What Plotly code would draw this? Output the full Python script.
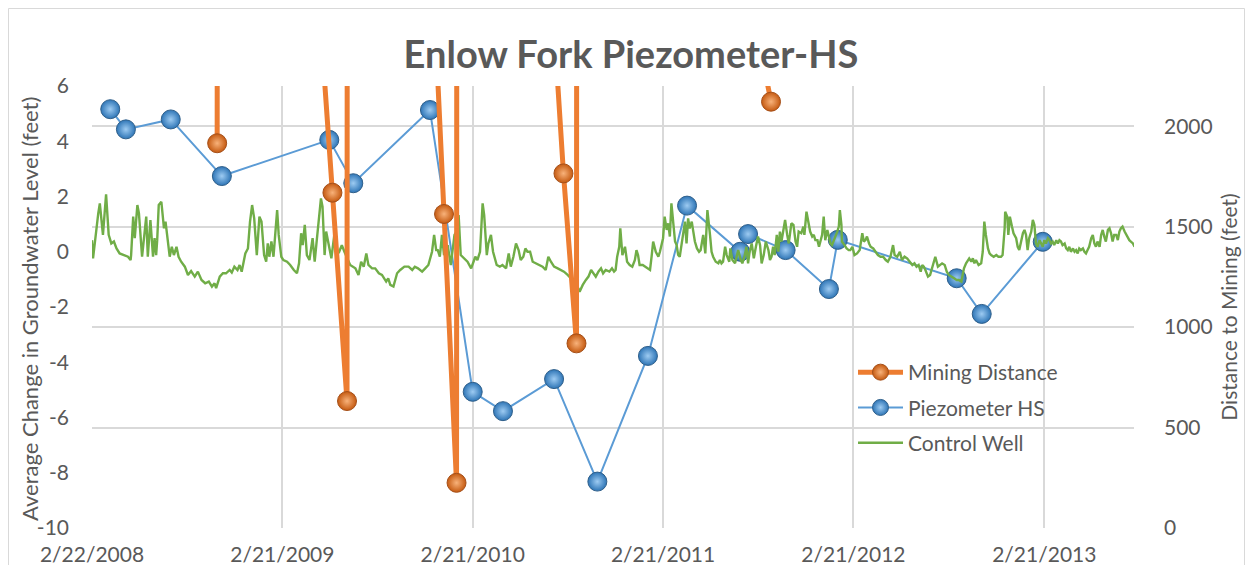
import pandas as pd
import plotly.graph_objects as go

# ---------------- data ----------------
start_date = pd.Timestamp("2008-02-22")

piezo_dates = ["2008-03-28", "2008-04-27", "2008-07-22", "2008-10-28", "2009-05-22",
               "2009-07-07", "2009-12-01", "2010-02-21", "2010-04-20", "2010-07-27",
               "2010-10-18", "2011-01-23", "2011-04-08", "2011-07-19", "2011-08-03",
               "2011-10-14", "2012-01-05", "2012-01-22", "2012-09-06", "2012-10-24",
               "2013-02-18"]
piezo_values = [5.16, 4.43, 4.79, 2.74, 4.05, 2.48, 5.13, -5.07, -5.77, -4.61,
                -8.32, -3.77, 1.67, 0.0, 0.64, 0.06, -1.35, 0.43, -0.96, -2.25, 0.36]

mining_dates = ["2008-10-19", "2008-10-20", "2009-04-28", "2009-05-28", "2009-06-25",
                "2009-06-26", "2009-11-28", "2009-12-28", "2010-01-21", "2010-01-22",
                "2010-07-15", "2010-08-14", "2010-09-08", "2010-09-09", "2011-08-17",
                "2011-09-16"]
mining_values = [1915, 6000, 2779, 1669, 632, 6000, 3236, 1563, 225, 6000,
                 2983, 1765, 919, 6000, 2512, 2122]

# Control well: days after 2008-02-22 and average change (feet)
control_days = [0, 2, 12, 15, 21, 27, 32, 37, 42, 47, 53, 63, 69, 74, 75, 79, 82, 87, 90, 96,
                100, 104, 107, 112, 117, 120, 123, 125, 128, 133, 138, 141, 149, 153, 157, 162,
                166, 171, 178, 184, 190, 197, 203, 210, 217, 224, 230, 235, 238, 245, 251, 257,
                264, 268, 273, 279, 283, 287, 294, 299, 303, 307, 311, 316, 321, 325, 330, 334,
                337, 340, 344, 348, 355, 358, 363, 367, 374, 380, 387, 393, 397, 401, 404, 408,
                412, 417, 423, 427, 431, 435, 439, 442, 446, 449, 454, 459, 465, 470, 474, 479,
                484, 489, 495, 505, 511, 516, 521, 526, 530, 537, 543, 550, 556, 564, 568, 572,
                578, 585, 591, 599, 607, 614, 619, 625, 633, 639, 645, 652, 656, 660, 663, 667,
                671, 675, 682, 688, 695, 699, 703, 707, 714, 720, 727, 731, 735, 739, 744, 749,
                752, 757, 760, 765, 769, 776, 782, 787, 794, 799, 803, 808, 813, 818, 822, 827,
                831, 835, 840, 845, 851, 858, 864, 870, 875, 880, 886, 893, 899, 905, 912, 918,
                925, 931, 935, 941, 947, 952, 957, 961, 966, 971, 976, 980, 985, 992, 997, 1001,
                1004, 1007, 1011, 1013, 1017, 1022, 1026, 1031, 1036, 1041, 1044, 1047, 1050,
                1056, 1060, 1065, 1070, 1073, 1076, 1081, 1086, 1089, 1092, 1095, 1098, 1102,
                1105, 1108, 1111, 1114, 1118, 1121, 1124, 1127, 1130, 1134, 1137, 1140, 1143,
                1146, 1150, 1153, 1156, 1160, 1164, 1167, 1172, 1176, 1180, 1185, 1188, 1191,
                1196, 1201, 1204, 1207, 1210, 1214, 1217, 1222, 1224, 1228, 1233, 1236, 1239,
                1244, 1247, 1251, 1255, 1258, 1261, 1265, 1269, 1273, 1277, 1281, 1284, 1288,
                1292, 1297, 1300, 1303, 1306, 1309, 1313, 1316, 1319, 1322, 1325, 1329, 1333,
                1336, 1341, 1345, 1349, 1352, 1355, 1360, 1364, 1366, 1370, 1373, 1377, 1381,
                1384, 1387, 1391, 1394, 1397, 1400, 1403, 1406, 1410, 1413, 1416, 1419, 1422,
                1426, 1429, 1432, 1434, 1437, 1438, 1443, 1447, 1451, 1454, 1458, 1462, 1467,
                1472, 1477, 1480, 1483, 1486, 1490, 1493, 1498, 1502, 1507, 1512, 1517, 1522,
                1526, 1531, 1536, 1539, 1544, 1549, 1553, 1558, 1563, 1568, 1573, 1577, 1581,
                1585, 1589, 1592, 1595, 1598, 1603, 1607, 1611, 1614, 1617, 1622, 1626, 1630,
                1635, 1639, 1643, 1647, 1653, 1658, 1662, 1667,
                1672, 1676, 1679, 1682, 1686, 1689, 1692, 1695, 1700, 1705, 1708, 1711, 1714,
                1718, 1721, 1724, 1729, 1734, 1738, 1743, 1746, 1750, 1751, 1755, 1757, 1760,
                1764, 1767, 1772, 1775, 1778, 1781, 1785, 1788, 1791, 1794, 1797, 1801, 1804,
                1807, 1810, 1813, 1817, 1820, 1823, 1826, 1829, 1833, 1836, 1839, 1842, 1845,
                1849, 1852, 1855, 1858, 1861, 1865, 1868, 1871, 1874, 1877, 1881, 1884, 1887,
                1890, 1893, 1896, 1900, 1903, 1906, 1909, 1912, 1916, 1919, 1922, 1925, 1928,
                1932, 1935, 1938, 1941, 1944, 1948, 1951, 1954, 1957, 1960, 1964, 1967, 1970,
                1973, 1976, 1980, 1983, 1986, 1989, 1992, 1996, 1999]
control_values = [0.42, -0.24, 1.39, 1.75, 0.61, 2.08, 0.61, 0.30, 0.37, 0.12, -0.06, -0.12, -0.18,
                  -0.30, -0.12, 1.27, 0.49, 1.69, 1.39, -0.18, 0.61, 1.27, -0.18, 1.15, -0.18, 0.49,
                  -0.12, 0.42, 1.69, 1.81, 0.85, 1.09, -0.18, 0.18, -0.12, 0.18, -0.18, -0.36, -0.54,
                  -0.84, -0.70, -0.90, -0.72, -1.02, -1.14, -1.08, -1.26, -1.14, -1.32, -0.90, -0.78,
                  -0.78, -0.66, -0.75, -0.54, -0.66, -0.48, -0.72, -0.06, 0.12, 1.09, 1.69, 1.21,
                  -0.12, 1.27, 1.09, -0.12, -0.36,
                  0.30, -0.18, 0.37, -0.18, 1.51, 0.61, -0.18, -0.30, -0.36, -0.48, -0.66, -0.78,
                  -0.42, 0.67, 0.24, 0.97, -0.12, -0.30, 0.49, -0.36, 0.42, 1.33, 1.93, 1.63, -0.12,
                  0.73, 0.30, -0.24, 0.67, 0.06, 0.0, 0.24, 0.0, -0.24, -0.48, -0.60, -0.84, -0.36,
                  -0.54, -0.06, -0.48, -0.60, -0.60, -0.78, -0.84, -1.08, -0.96, -1.20, -1.26, -0.78,
                  -0.66, -0.54, -0.54, -0.66, -0.54, -0.60, -0.72, -0.60, -0.48, 0.0, 0.61, 0.06,
                  0.06, -0.18,
                  0.61, -0.12, 0.24, -0.48, 0.61, 0.73, 1.33, -0.12, -0.24, -0.36, -0.60, -0.36,
                  -0.18, -0.30, 0.0, 1.75, 1.33, -0.12, 0.30, 0.61, 0.0, -0.48, -0.54, -0.48, -0.60,
                  -0.06, -0.54, -0.18, 0.30, 0.06, -0.30, -0.18, 0.12, 0.0, 0.0, -0.36, -0.42, -0.48,
                  -0.54, -0.66, -0.18, -0.36, -0.54, -0.60, -0.66, -0.72, -0.84, -0.96, -1.20, -1.26,
                  -1.45, -1.20, -1.02, -0.90, -0.66, -0.78, -0.90, -0.72, -0.60, -0.78, -0.66, -0.72,
                  -0.60, -0.72,
                  -0.66, -0.18, 0.18, 0.85, -0.12, 0.18, -0.36, -0.48, -0.54, -0.30, 0.06, -0.12,
                  -0.48, -0.48, -0.54, -0.60, -0.66, -0.18, 0.37, 0.0, -0.18, 0.0, 0.30, 0.49, 1.27,
                  0.79, 1.03, 0.55, 1.75, 1.21, 0.37, 0.24, -0.12, -0.18, 0.24, 0.73, 1.09, 0.30,
                  1.21, 0.85, 1.09, 0.73, 0.37, 0.12, 0.0, 0.06, 0.61, -0.06, 1.51, 0.61, 0.0, -0.18,
                  -0.36, -0.42, -0.30, -0.42, -0.36, 0.18, -0.12, -0.36, 0.12, -0.30, -0.42, -0.18,
                  0.06, -0.30, -0.42, -0.18, 0.18, -0.42, 0.0, 0.30, -0.24, 0.18, 0.55, 0.24, -0.42,
                  -0.12, 0.37, 0.06, -0.30, -0.18, 0.18, -0.12, 0.61, 0.0, 0.73, 0.37, 0.73, 1.15,
                  0.61,
                  0.30, 1.03, 0.97, 0.37, 0.18, 0.73, 0.67, 0.91, 0.61, 1.45, 1.09, 0.73, 0.55, 0.61,
                  0.42, 0.42, 0.18, 0.42, 0.61, 1.27, 0.42, 0.79, 0.55, 0.30, 0.24, 0.37, 0.55, 0.73,
                  0.91, 1.51, 0.97, 0.37, 0.24, 0.12, 0.06, 0.06, 0.18, -0.12, -0.06, 0.06, 0.67,
                  0.37, 0.42, 0.55, 0.30, 0.18, 0.12, 0.0, -0.12, -0.18, -0.18, -0.30, -0.36, -0.18,
                  0.24, -0.12, -0.18, 0.0, -0.30, -0.18, -0.24, -0.36, -0.48, -0.42, -0.54, -0.48,
                  -0.72, -0.48, -0.54, -0.66, -0.90, -0.84, -0.54, -0.36, -0.18, -0.54, -0.48, -0.42,
                  -0.48, -0.72, -0.84, -0.90, -0.96, -1.02, -1.02, -1.08,
                  -0.60, -0.42, -0.30, -0.24, -0.36, -0.24, -0.42, -0.30, -0.48, -0.42, 0.0, 1.09,
                  0.61, 0.12, -0.06, -0.12, -0.18, -0.12, -0.18, -0.18, -0.12, 0.85, 1.45, 1.27,
                  0.61, 1.27, 0.91, 0.67, 0.49, 0.18, 0.06, 0.37, 0.67, 0.79, 0.61, 0.06, 0.49, 0.73,
                  1.15, 0.97, 0.30, 0.18, 0.42, 0.30, 0.18, 0.42, 0.30, 0.49, 0.42, 0.30, 0.37, 0.24,
                  0.42, 0.30, 0.42, 0.37, 0.24, 0.30, 0.12, 0.06, 0.18, 0.0, 0.12, 0.0, 0.06, -0.06,
                  0.12, 0.06, 0.12, 0.0, -0.06, 0.06, 0.18, 0.49, 0.61, 0.30, 0.18, 0.37, 0.18, 0.61,
                  0.79, 0.55, 0.37, 0.79, 0.85, 0.67, 0.37, 0.61, 0.61, 0.42, 0.73, 0.85, 0.91, 0.73,
                  0.61, 0.49, 0.42, 0.37, 0.30, 0.18]

tick_dates = ["2008-02-22", "2009-02-21", "2010-02-21", "2011-02-21", "2012-02-21", "2013-02-21"]
tick_labels = ["2/22/2008", "2/21/2009", "2/21/2010", "2/21/2011", "2/21/2012", "2/21/2013"]
x_end = "2013-08-12"

level_ticks = [-10, -8, -6, -4, -2, 0, 2, 4, 6]
level_labels = ["-10", "-8", "-6", "-4", "-2", "0", "2", "4", "6"]
distance_ticks = [0, 500, 1000, 1500, 2000]

control_dates = [start_date + pd.Timedelta(days=d) for d in control_days]

# ---------------- figure ----------------
FONT = "Lato"
GREY = "#595959"
GRID = "#d9d9d9"

fig = go.Figure()

fig.add_trace(go.Scatter(
    x=mining_dates, y=mining_values, name="Mining Distance", yaxis="y2",
    mode="lines+markers",
    line=dict(color="#ED7D31", width=5),
    marker=dict(size=19, color="#C55A11",
                gradient=dict(type="radial", color="#F8B27A"),
                line=dict(color="#A5501A", width=1)),
    legendgroup="a",
))
fig.add_trace(go.Scatter(
    x=piezo_dates, y=piezo_values, name="Piezometer HS",
    mode="lines+markers",
    line=dict(color="#5B9BD5", width=2),
    marker=dict(size=19, color="#2E75B6",
                gradient=dict(type="radial", color="#9DCBF2"),
                line=dict(color="#2F5F8A", width=1)),
    legendgroup="b",
))
fig.add_trace(go.Scatter(
    x=control_dates, y=control_values, name="Control Well",
    mode="lines",
    line=dict(color="#70AD47", width=2.4),
    legendgroup="c",
))

# the page adds an 8px body margin, so the figure itself is 1237 x 557
W, H = 1237, 557
L, R, T, B = 84, 111, 78, 37
pw, ph = W - L - R, H - T - B


def px_x(px):
    return (px - L) / pw


def px_y(py):
    return (H - B - py) / ph


fig.update_layout(
    width=W, height=H,
    margin=dict(l=L, r=R, t=T, b=B, autoexpand=False),
    paper_bgcolor="white", plot_bgcolor="white",
    font=dict(family=FONT, color=GREY, size=21),
    title=dict(text="<b>Enlow Fork Piezometer-HS</b>", x=623 / W, xanchor="center",
               y=1 - 47 / H, yanchor="middle",
               font=dict(family=FONT, size=38, color=GREY)),
    xaxis=dict(type="date", range=[start_date.strftime("%Y-%m-%d"), x_end],
               tickvals=tick_dates, ticktext=tick_labels,
               showgrid=True, gridcolor=GRID, gridwidth=2,
               showline=False, zeroline=False, ticks="",
               ticklabelstandoff=12,
               tickfont=dict(size=21, color=GREY)),
    yaxis=dict(range=[-10, 6], tickvals=level_ticks, ticktext=level_labels,
               showgrid=False, zeroline=False, showline=False, ticks="",
               ticklabelstandoff=22,
               tickfont=dict(size=21, color=GREY)),
    yaxis2=dict(range=[0, 2200], tickvals=distance_ticks,
                overlaying="y", side="right",
                showgrid=True, gridcolor=GRID, gridwidth=2,
                zeroline=False, showline=False, ticks="",
                ticklabelstandoff=29,
                tickfont=dict(size=21, color=GREY),
                title=dict(text="Distance to Mining (feet)",
                           font=dict(size=21, color=GREY), standoff=10)),
    legend=dict(x=px_x(845), y=px_y(344), xanchor="left", yanchor="top",
                bgcolor="rgba(0,0,0,0)", font=dict(size=21, color=GREY),
                tracegroupgap=5, itemwidth=45),
    showlegend=True,
    annotations=[dict(text="Average Change in Groundwater Level (feet)",
                      xref="paper", yref="paper", x=px_x(21), y=px_y(301),
                      xanchor="center", yanchor="middle", textangle=-90,
                      showarrow=False, font=dict(size=22, color=GREY))],
    shapes=[
        dict(type="line", xref="paper", yref="paper",
             x0=px_x(0.5), x1=px_x(0.5), y0=px_y(H), y1=px_y(0.5),
             line=dict(color=GRID, width=1)),
        dict(type="line", xref="paper", yref="paper",
             x0=px_x(0.5), x1=px_x(W - 0.5), y0=px_y(0.5), y1=px_y(0.5),
             line=dict(color=GRID, width=1)),
        dict(type="line", xref="paper", yref="paper",
             x0=px_x(W - 0.5), x1=px_x(W - 0.5), y0=px_y(H), y1=px_y(0.5),
             line=dict(color=GRID, width=1)),
    ],
)

fig.write_html("out.html")
